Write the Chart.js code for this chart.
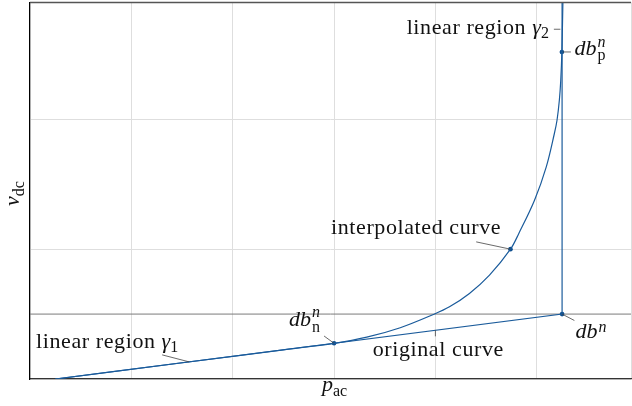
<!DOCTYPE html>
<html>
<head>
<meta charset="utf-8">
<script src="https://cdn.jsdelivr.net/npm/chart.js@4/dist/chart.umd.min.js"></script>
<style>
  html, body { margin: 0; padding: 0; background: #fff; }
  #wrap { width: 632px; height: 406px; }
</style>
</head>
<body>
<div id="wrap"><canvas id="c" width="632" height="406"></canvas></div>
<script>
// Original piecewise-linear characteristic: linear ramp, then vertical wall
const originalX = [0.25, 5.25, 5.25];
const originalY = [0, 0.5, 3.5];

// Interpolated (smoothed) characteristic
const interpX = [0.25, 1.5, 2.5, 3.0, 3.323, 3.653, 3.98, 4.139, 4.336, 4.534, 4.741, 4.823, 4.978, 5.094, 5.174, 5.2, 5.223, 5.237, 5.248, 5.258, 5.266];
const interpY = [0, 0.125, 0.225, 0.275, 0.322, 0.395, 0.497, 0.556, 0.659, 0.8, 1.0, 1.121, 1.377, 1.634, 1.891, 1.993, 2.147, 2.301, 2.519, 2.9, 3.2];

// Marked breakpoints: db_n^n, curve sample, db_p^n, db^n
const markerNames = ['dbn', 'interp', 'dbp', 'db'];
const markerX = [3.0, 4.741, 5.248, 5.25];
const markerY = [0.275, 1.0, 2.519, 0.5];

// Level of the db^n breakpoint (horizontal reference line)
const refLevel = 0.5;

// Axis extents and grid step
const xRange = [0, 5.93];
const yRange = [0, 2.9];
const gridStep = 1;

const BLUE = '#1a5b9b';
const SERIF = '"Liberation Serif", "Times New Roman", serif';

const toPts = (xs, ys) => xs.map((x, i) => ({ x, y: ys[i] }));

// Draw a sequence of text runs (supports italic, size, vertical offset, stacked scripts)
function drawRuns(ctx, x, y, runs) {
  let cx = x;
  for (const r of runs) {
    ctx.font = (r.it ? 'italic ' : '') + r.size + 'px ' + SERIF;
    ctx.letterSpacing = (r.ls || 0) + 'px';
    ctx.fillText(r.t, cx, y + (r.dy || 0));
    const w = ctx.measureText(r.t).width;
    if (!r.stack) cx += w + (r.gap || 0);
  }
  ctx.letterSpacing = '0px';
  return cx - x;
}
function measureRuns(ctx, runs) {
  let w = 0;
  for (const r of runs) {
    ctx.font = (r.it ? 'italic ' : '') + r.size + 'px ' + SERIF;
    ctx.letterSpacing = (r.ls || 0) + 'px';
    if (!r.stack) w += ctx.measureText(r.t).width + (r.gap || 0);
  }
  ctx.letterSpacing = '0px';
  return w;
}
function pin(ctx, x1, y1, x2, y2) {
  ctx.beginPath();
  ctx.moveTo(x1, y1);
  ctx.lineTo(x2, y2);
  ctx.stroke();
}

const annotations = {
  id: 'annotations',
  beforeDatasetsDraw(chart) {
    const { ctx, chartArea: a, scales: { y } } = chart;
    const py = y.getPixelForValue(refLevel);
    ctx.save();
    ctx.strokeStyle = '#7a7a7a';
    ctx.lineWidth = 1;
    pin(ctx, a.left, py, a.right, py);
    ctx.restore();
  },
  afterDatasetsDraw(chart) {
    const { ctx, chartArea: a, scales: { x, y } } = chart;
    const P = (vx, vy) => ({ x: x.getPixelForValue(vx), y: y.getPixelForValue(vy) });
    const m = {};
    markerNames.forEach((n, i) => { m[n] = P(markerX[i], markerY[i]); });

    ctx.save();
    // top frame line
    ctx.strokeStyle = '#555';
    ctx.lineWidth = 1.5;
    pin(ctx, a.left, a.top, a.right, a.top);

    ctx.fillStyle = '#111';
    ctx.strokeStyle = '#444';
    ctx.lineWidth = 0.8;
    ctx.textBaseline = 'alphabetic';
    ctx.textAlign = 'left';

    const body = 22, small = 16, ls = 0.6;

    // linear region γ1 (pinned on the original ramp)
    const g1 = P(1.57, 0.1 * (1.57 - 0.25));
    pin(ctx, g1.x, g1.y, g1.x - 27, g1.y - 7);
    drawRuns(ctx, 36, g1.y - 14, [
      { t: 'linear region', size: body, ls, gap: 6 },
      { t: 'γ', it: true, size: body },
      { t: '1', size: small, dy: 4 }
    ]);

    // db_n^n
    const a1 = m.dbn;
    pin(ctx, a1.x - 10, a1.y - 7.3, a1.x, a1.y);
    drawRuns(ctx, a1.x - 45, a1.y - 17.6, [
      { t: 'db', it: true, size: body, gap: 1 },
      { t: 'n', it: true, size: small, dy: -8.5, stack: true },
      { t: 'n', size: small, dy: 6.5 }
    ]);

    // interpolated curve
    const b = m.interp;
    pin(ctx, b.x - 34.3, b.y - 7.3, b.x, b.y);
    drawRuns(ctx, b.x - 179.5, b.y - 15.5, [{ t: 'interpolated curve', size: body, ls }]);

    // original curve
    const o = P(4.0, 0.1 * (4.0 - 0.25));
    pin(ctx, o.x, o.y, o.x, o.y + 6);
    drawRuns(ctx, o.x - 62.7, o.y + 25.6, [{ t: 'original curve', size: body, ls }]);

    // db^n
    const d = m.db;
    pin(ctx, d.x, d.y, d.x + 12.3, d.y + 6.4);
    drawRuns(ctx, d.x + 13.3, d.y + 24, [
      { t: 'db', it: true, size: body, gap: 1 },
      { t: 'n', it: true, size: small, dy: -6.5 }
    ]);

    // db_p^n
    const c = m.dbp;
    pin(ctx, c.x + 1, c.y, c.x + 9, c.y);
    drawRuns(ctx, c.x + 12.7, c.y + 3.3, [
      { t: 'db', it: true, size: body, gap: 1 },
      { t: 'n', it: true, size: small, dy: -8.5, stack: true },
      { t: 'p', size: small, dy: 5 }
    ]);

    // linear region γ2 (pinned on the steep end of the interpolated curve)
    const g2 = P(5.253, 2.694);
    pin(ctx, g2.x - 8.5, g2.y, g2.x - 2, g2.y);
    const runs2 = [
      { t: 'linear region', size: body, ls, gap: 6 },
      { t: 'γ', it: true, size: body },
      { t: '2', size: small, dy: 4 }
    ];
    const w2 = measureRuns(ctx, runs2);
    drawRuns(ctx, g2.x - 13.5 - w2, g2.y + 4.3, runs2);

    // axis titles
    const xt = [
      { t: 'p', it: true, size: body },
      { t: 'ac', size: small, dy: 5 }
    ];
    const xw = measureRuns(ctx, xt);
    drawRuns(ctx, (a.left + a.right) / 2 + 4 - xw / 2, 391, xt);

    const yt = [
      { t: 'v', it: true, size: body },
      { t: 'dc', size: small, dy: 5 }
    ];
    ctx.translate(19, 206);
    ctx.rotate(-Math.PI / 2);
    drawRuns(ctx, 0, 0, yt);
    ctx.restore();
  }
};

new Chart(document.getElementById('c'), {
  type: 'scatter',
  data: {
    datasets: [
      {
        label: 'original curve',
        data: toPts(originalX, originalY),
        showLine: true,
        borderColor: BLUE,
        borderWidth: 1.2,
        pointRadius: 0
      },
      {
        label: 'interpolated curve',
        data: toPts(interpX, interpY),
        showLine: true,
        borderColor: BLUE,
        borderWidth: 1.2,
        tension: 0.35,
        pointRadius: 0
      },
      {
        label: 'breakpoints',
        data: toPts(markerX, markerY),
        showLine: false,
        pointRadius: 2.3,
        pointBackgroundColor: '#0f4f8e',
        pointBorderWidth: 0
      }
    ]
  },
  plugins: [annotations],
  options: {
    responsive: false,
    animation: false,
    devicePixelRatio: 1,
    layout: { autoPadding: false, padding: { left: 30, top: 2.5, right: 1, bottom: 27 } },
    plugins: { legend: { display: false }, tooltip: { enabled: false } },
    scales: {
      x: {
        type: 'linear',
        min: xRange[0],
        max: xRange[1],
        ticks: { display: false, stepSize: gridStep },
        grid: { color: '#dedede', lineWidth: 1, drawTicks: false },
        border: { color: '#333', width: 1.3 }
      },
      y: {
        type: 'linear',
        min: yRange[0],
        max: yRange[1],
        ticks: { display: false, stepSize: gridStep },
        grid: { color: '#dedede', lineWidth: 1, drawTicks: false },
        border: { color: '#000', width: 1.2 }
      }
    }
  }
});
</script>
</body>
</html>
